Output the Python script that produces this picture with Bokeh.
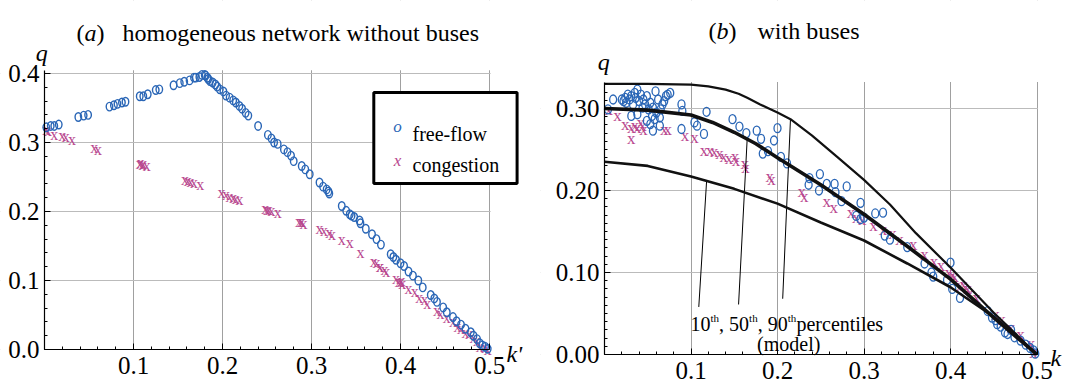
from bokeh.plotting import figure
from bokeh.models import Label, FixedTicker, PrintfTickFormatter, BoxAnnotation
from bokeh.layouts import row
from bokeh.core.properties import value
from bokeh.embed import file_html
from bokeh.resources import INLINE

# ---------------- data: panel (a) ----------------
a_free_k = [0.002, 0.007, 0.011, 0.016, 0.038, 0.044, 0.049, 0.073, 0.078, 0.082, 0.087, 0.091,
            0.107, 0.111, 0.116, 0.125, 0.129, 0.145, 0.152, 0.157, 0.163, 0.168, 0.170, 0.174,
            0.177, 0.180, 0.181, 0.183, 0.184, 0.186, 0.189, 0.192, 0.194, 0.197, 0.201, 0.204,
            0.208, 0.212, 0.215, 0.219, 0.222, 0.226, 0.229, 0.240, 0.251, 0.255, 0.258, 0.262,
            0.269, 0.273, 0.277, 0.280, 0.289, 0.293, 0.298, 0.309, 0.313, 0.317, 0.319, 0.320,
            0.334, 0.339, 0.343, 0.345, 0.348, 0.354, 0.355, 0.361, 0.368, 0.373, 0.378, 0.389,
            0.392, 0.395, 0.400, 0.404, 0.409, 0.414, 0.420, 0.425, 0.434, 0.438, 0.441, 0.448,
            0.452, 0.459, 0.463, 0.468, 0.473, 0.479, 0.482, 0.486, 0.489, 0.492, 0.495, 0.498]
a_free_q = [0.322, 0.324, 0.324, 0.326, 0.337, 0.339, 0.340, 0.352, 0.354, 0.356, 0.358, 0.359,
            0.367, 0.367, 0.370, 0.376, 0.377, 0.383, 0.386, 0.388, 0.390, 0.394, 0.394, 0.395,
            0.398, 0.398, 0.397, 0.394, 0.392, 0.389, 0.387, 0.384, 0.381, 0.377, 0.374, 0.368,
            0.365, 0.361, 0.358, 0.353, 0.349, 0.343, 0.339, 0.324, 0.311, 0.306, 0.300, 0.298,
            0.290, 0.286, 0.281, 0.273, 0.266, 0.261, 0.254, 0.242, 0.236, 0.232, 0.229, 0.226,
            0.208, 0.201, 0.196, 0.194, 0.192, 0.187, 0.183, 0.175, 0.167, 0.160, 0.152, 0.138,
            0.134, 0.130, 0.125, 0.121, 0.113, 0.107, 0.100, 0.090, 0.079, 0.074, 0.069, 0.061,
            0.054, 0.047, 0.041, 0.036, 0.030, 0.025, 0.020, 0.015, 0.009, 0.006, 0.004, 0.001]

a_cong_k = [0.002, 0.004, 0.011, 0.020, 0.024, 0.031, 0.056, 0.060, 0.107, 0.108, 0.110, 0.111,
            0.115, 0.158, 0.161, 0.164, 0.168, 0.175, 0.199, 0.204, 0.208, 0.212, 0.215, 0.219,
            0.248, 0.250, 0.252, 0.255, 0.262, 0.286, 0.288, 0.289, 0.291, 0.309, 0.314, 0.320,
            0.323, 0.334, 0.343, 0.355, 0.370, 0.373, 0.377, 0.377, 0.382, 0.384, 0.395, 0.398,
            0.400, 0.401, 0.402, 0.409, 0.416, 0.421, 0.427, 0.430, 0.441, 0.445, 0.452, 0.459,
            0.464, 0.468, 0.473, 0.477, 0.482, 0.486, 0.489, 0.495, 0.498]
a_cong_q = [0.319, 0.317, 0.312, 0.310, 0.308, 0.305, 0.293, 0.290, 0.270, 0.271, 0.268, 0.269,
            0.266, 0.246, 0.245, 0.244, 0.242, 0.239, 0.227, 0.224, 0.222, 0.220, 0.219, 0.218,
            0.204, 0.203, 0.203, 0.201, 0.199, 0.186, 0.186, 0.185, 0.183, 0.175, 0.172, 0.170,
            0.167, 0.160, 0.155, 0.140, 0.128, 0.126, 0.121, 0.120, 0.116, 0.113, 0.103, 0.099,
            0.098, 0.100, 0.096, 0.089, 0.084, 0.076, 0.072, 0.067, 0.057, 0.052, 0.047, 0.041,
            0.033, 0.030, 0.025, 0.023, 0.018, 0.013, 0.005, 0.003, 0.000]

# ---------------- data: panel (b) ----------------
b_free_k = [0.004, 0.010, 0.020, 0.022, 0.024, 0.025, 0.027, 0.029, 0.031, 0.033, 0.035, 0.036,
            0.038, 0.040, 0.042, 0.044, 0.045, 0.047, 0.049, 0.051, 0.053, 0.055, 0.056, 0.058,
            0.060, 0.062, 0.064, 0.065, 0.067, 0.069, 0.071, 0.073, 0.076, 0.059, 0.089, 0.090,
            0.118, 0.104, 0.107, 0.115, 0.056, 0.064, 0.031, 0.038, 0.049, 0.053, 0.089,
            0.148, 0.156, 0.164, 0.176, 0.181, 0.200, 0.196, 0.183, 0.189, 0.204, 0.211, 0.237,
            0.249, 0.236, 0.248, 0.257, 0.266, 0.267, 0.280, 0.274, 0.296, 0.296, 0.291, 0.300,
            0.313, 0.322, 0.324, 0.330, 0.350, 0.370, 0.378, 0.380, 0.400, 0.396, 0.402, 0.411,
            0.443, 0.448, 0.452, 0.454, 0.458, 0.463, 0.466, 0.470, 0.474, 0.481, 0.487, 0.492,
            0.496, 0.498]
b_free_q = [0.299, 0.311, 0.311, 0.309, 0.313, 0.307, 0.317, 0.311, 0.315, 0.305, 0.319, 0.313,
            0.323, 0.309, 0.317, 0.301, 0.311, 0.305, 0.315, 0.299, 0.307, 0.291, 0.301, 0.287,
            0.295, 0.311, 0.289, 0.299, 0.305, 0.309, 0.315, 0.317, 0.319, 0.321, 0.305, 0.297,
            0.296, 0.283, 0.279, 0.269, 0.273, 0.279, 0.291, 0.293, 0.285, 0.281, 0.275,
            0.287, 0.278, 0.270, 0.273, 0.263, 0.276, 0.261, 0.245, 0.248, 0.241, 0.233, 0.215,
            0.220, 0.207, 0.200, 0.208, 0.208, 0.198, 0.205, 0.187, 0.185, 0.165, 0.169, 0.167,
            0.172, 0.173, 0.145, 0.140, 0.131, 0.111, 0.100, 0.095, 0.112, 0.091, 0.080, 0.069,
            0.053, 0.045, 0.042, 0.037, 0.034, 0.027, 0.025, 0.030, 0.021, 0.017, 0.012, 0.008,
            0.005, 0.001]

b_cong_k = [0.005, 0.015, 0.024, 0.031, 0.035, 0.038, 0.042, 0.044, 0.045, 0.031, 0.069, 0.073,
            0.093, 0.104, 0.115, 0.122, 0.127, 0.133, 0.138, 0.144, 0.151, 0.162, 0.152, 0.163,
            0.191, 0.193, 0.228, 0.231, 0.257, 0.265, 0.285, 0.291, 0.298, 0.311, 0.322, 0.333,
            0.341, 0.357, 0.370, 0.381, 0.389, 0.398, 0.402, 0.405, 0.411, 0.415, 0.420, 0.422,
            0.430, 0.452, 0.459, 0.470, 0.481, 0.493, 0.496]
b_cong_q = [0.299, 0.292, 0.281, 0.277, 0.279, 0.277, 0.283, 0.279, 0.275, 0.263, 0.275, 0.275,
            0.267, 0.265, 0.249, 0.249, 0.247, 0.245, 0.241, 0.239, 0.241, 0.233, 0.237, 0.228,
            0.217, 0.213, 0.199, 0.193, 0.187, 0.179, 0.173, 0.167, 0.165, 0.157, 0.152, 0.147,
            0.140, 0.134, 0.122, 0.114, 0.108, 0.100, 0.098, 0.095, 0.084, 0.085, 0.080, 0.074,
            0.070, 0.049, 0.043, 0.033, 0.025, 0.013, 0.003]

# model percentile curves
p90_k = [0.0, 0.05, 0.10, 0.12, 0.14, 0.155, 0.165, 0.18, 0.19, 0.20, 0.215, 0.24, 0.27, 0.30,
         0.33, 0.36, 0.40, 0.45, 0.50]
p90_q = [0.330, 0.330, 0.329, 0.327, 0.323, 0.318, 0.313, 0.305, 0.300, 0.295, 0.287, 0.267,
         0.240, 0.213, 0.183, 0.148, 0.106, 0.051, 0.0]
p50_k = [0.0, 0.05, 0.10, 0.125, 0.15, 0.175, 0.20, 0.25, 0.30, 0.35, 0.40, 0.45, 0.50]
p50_q = [0.300, 0.298, 0.292, 0.283, 0.271, 0.257, 0.240, 0.207, 0.171, 0.132, 0.092, 0.045, 0.0]
p10_k = [0.0, 0.05, 0.10, 0.15, 0.20, 0.25, 0.30, 0.35, 0.40, 0.45, 0.50]
p10_q = [0.235, 0.230, 0.217, 0.202, 0.184, 0.161, 0.139, 0.111, 0.082, 0.046, 0.0]

# leader lines from the annotation to the curves
lead_k0 = [0.109, 0.155, 0.206]
lead_q0 = [0.058, 0.061, 0.068]
lead_k1 = [0.118, 0.165, 0.215]
lead_q1 = [0.211, 0.264, 0.287]

x_ticks = [0.1, 0.2, 0.3, 0.4, 0.5]
a_y_ticks = [0.0, 0.1, 0.2, 0.3, 0.4]
b_y_ticks = [0.0, 0.1, 0.2, 0.3]
A_YMAX = 0.4043
B_YMAX = 0.3317

BLUE = "#2a66b6"
MAG = "#b8468e"
SERIF = "Liberation Serif"
TICK_FS = "25px"


def style(p, yticks, yminor, yfmt, ymax):
    p.outline_line_color = None
    p.background_fill_color = "white"
    p.border_fill_color = "white"
    p.title.visible = False
    xt = FixedTicker(ticks=x_ticks, minor_ticks=[round(i * 0.02, 3) for i in range(26)])
    yt = FixedTicker(ticks=yticks, minor_ticks=yminor)
    p.xaxis.ticker = xt
    p.yaxis.ticker = yt
    p.xgrid.ticker = xt
    p.ygrid.ticker = yt
    p.xaxis.formatter = PrintfTickFormatter(format="%.1f")
    p.yaxis.formatter = PrintfTickFormatter(format=yfmt)
    p.xaxis.fixed_location = 0
    p.yaxis.fixed_location = 0
    p.xaxis.bounds = (0, 0.5)
    p.yaxis.bounds = (0, ymax)
    for ax in (p.xaxis, p.yaxis):
        ax.axis_line_color = "black"
        ax.axis_line_width = 1.2
        ax.major_tick_in = 6
        ax.major_tick_out = 0
        ax.minor_tick_in = 3
        ax.minor_tick_out = 0
        ax.major_tick_line_color = "black"
        ax.minor_tick_line_color = "black"
        ax.major_label_text_font = SERIF
        ax.major_label_text_font_size = TICK_FS
        ax.major_label_text_color = "black"
    p.xaxis.major_label_standoff = 7
    p.yaxis.major_label_standoff = 5
    p.xgrid.grid_line_color = "#a0a0a0"
    p.ygrid.grid_line_color = "#bbbbbb"
    p.xgrid.grid_line_width = 1
    p.ygrid.grid_line_width = 1
    # keep the grid inside the plotting area
    for kw in (dict(bottom=ymax + 0.0005), dict(top=-0.0005), dict(right=-0.0005),
               dict(left=0.5 + 0.0012)):
        p.add_layout(BoxAnnotation(fill_color="white", fill_alpha=1.0, line_color=None,
                                   level="underlay", **kw))


def lab(p, x, y, text, size="22px", style_="normal", align="left", baseline="alphabetic",
        color="black", xoff=0):
    p.add_layout(Label(x=x, y=y, text=text, text_font=SERIF, text_font_size=size,
                       text_font_style=style_, text_align=align, text_baseline=baseline,
                       text_color=color, x_offset=xoff))


# ---------------- panel (a) ----------------
pa = figure(width=540, height=386, x_range=(-44 / 890, 496 / 890),
            y_range=(-37 / 690, 349 / 690),
            output_backend="svg", toolbar_location=None, min_border=0)
style(pa, a_y_ticks, [round(i * 0.02, 3) for i in range(21)], "%.1f", A_YMAX)

pa.text(x=a_cong_k, y=a_cong_q, text=value("x"), text_font=value(SERIF),
        text_font_size=value("16px"), text_color=MAG, text_align="center",
        text_baseline="middle")
pa.ellipse(x=a_free_k, y=a_free_q, width=6.5, height=8.5, width_units="screen",
           height_units="screen", fill_color=None, line_color=BLUE, line_width=1.4)

# legend box
pa.add_layout(BoxAnnotation(left=0.370, right=0.531, top=0.3725, bottom=0.2406,
                            fill_color="white", fill_alpha=1.0, line_color="black",
                            line_width=3, line_alpha=1.0))
lab(pa, 0.3966, 0.3232, "o", size="17px", style_="italic", align="center", baseline="middle",
    color=BLUE)
lab(pa, 0.4135, 0.3130, "free-flow", size="20px")
lab(pa, 0.3966, 0.2739, "x", size="17px", style_="italic", align="center", baseline="middle",
    color=MAG)
lab(pa, 0.4135, 0.2667, "congestion", size="20px")

# title and axis names
lab(pa, 0.036, 0.4594, "(", size="24px")
lab(pa, 0.036, 0.4594, "a", size="24px", style_="italic", xoff=8)
lab(pa, 0.036, 0.4594, ")", size="24px", xoff=20)
lab(pa, 0.0876, 0.4594, "homogeneous network without buses", size="24px")
lab(pa, -0.003, 0.429, "q", size="24px", style_="italic", align="center")
lab(pa, 0.519, -0.006, "k'", size="24px", style_="italic")

# ---------------- panel (b) ----------------
pb = figure(width=543, height=386, x_range=(-64 / 865, 479 / 865),
            y_range=(-32 / 820, 354 / 820),
            output_backend="svg", toolbar_location=None, min_border=0)
style(pb, b_y_ticks, [round(i * 0.01, 3) for i in range(34)], "%.2f", B_YMAX)

pb.text(x=b_cong_k, y=b_cong_q, text=value("x"), text_font=value(SERIF),
        text_font_size=value("17px"), text_color=MAG, text_align="center",
        text_baseline="middle")
pb.ellipse(x=b_free_k, y=b_free_q, width=7, height=9, width_units="screen",
           height_units="screen", fill_color=None, line_color=BLUE, line_width=1.3)

pb.segment(x0=lead_k0, y0=lead_q0, x1=lead_k1, y1=lead_q1, line_color="black", line_width=1)
pb.line(p10_k, p10_q, line_color="#111111", line_width=2.6)
pb.line(p90_k, p90_q, line_color="#111111", line_width=2.2)
pb.line(p50_k, p50_q, line_color="#111111", line_width=3.6)

# percentile annotation
k0, qb, qs = 0.0994, 0.0366, 0.0451
lab(pb, k0, qb, "10", size="20px")
lab(pb, k0, qs, "th", size="11px", xoff=20)
lab(pb, k0, qb, ", 50", size="20px", xoff=28.6)
lab(pb, k0, qs, "th", size="11px", xoff=58.6)
lab(pb, k0, qb, ", 90", size="20px", xoff=67.2)
lab(pb, k0, qs, "th", size="11px", xoff=97.2)
lab(pb, k0, qb, "percentiles", size="20px", xoff=106.0)
lab(pb, 0.213, 0.0122, "(model)", size="20px", align="center")

lab(pb, 0.1202, 0.3951, "(", size="24px")
lab(pb, 0.1202, 0.3951, "b", size="24px", style_="italic", xoff=8)
lab(pb, 0.1202, 0.3951, ")", size="24px", xoff=20)
lab(pb, 0.1769, 0.3951, "with buses", size="24px")
lab(pb, -0.001, 0.357, "q", size="24px", style_="italic", align="center")
lab(pb, 0.5156, -0.004, "k", size="24px", style_="italic")

layout = row(pa, pb)
open("out.html", "w").write(file_html(layout, INLINE))
